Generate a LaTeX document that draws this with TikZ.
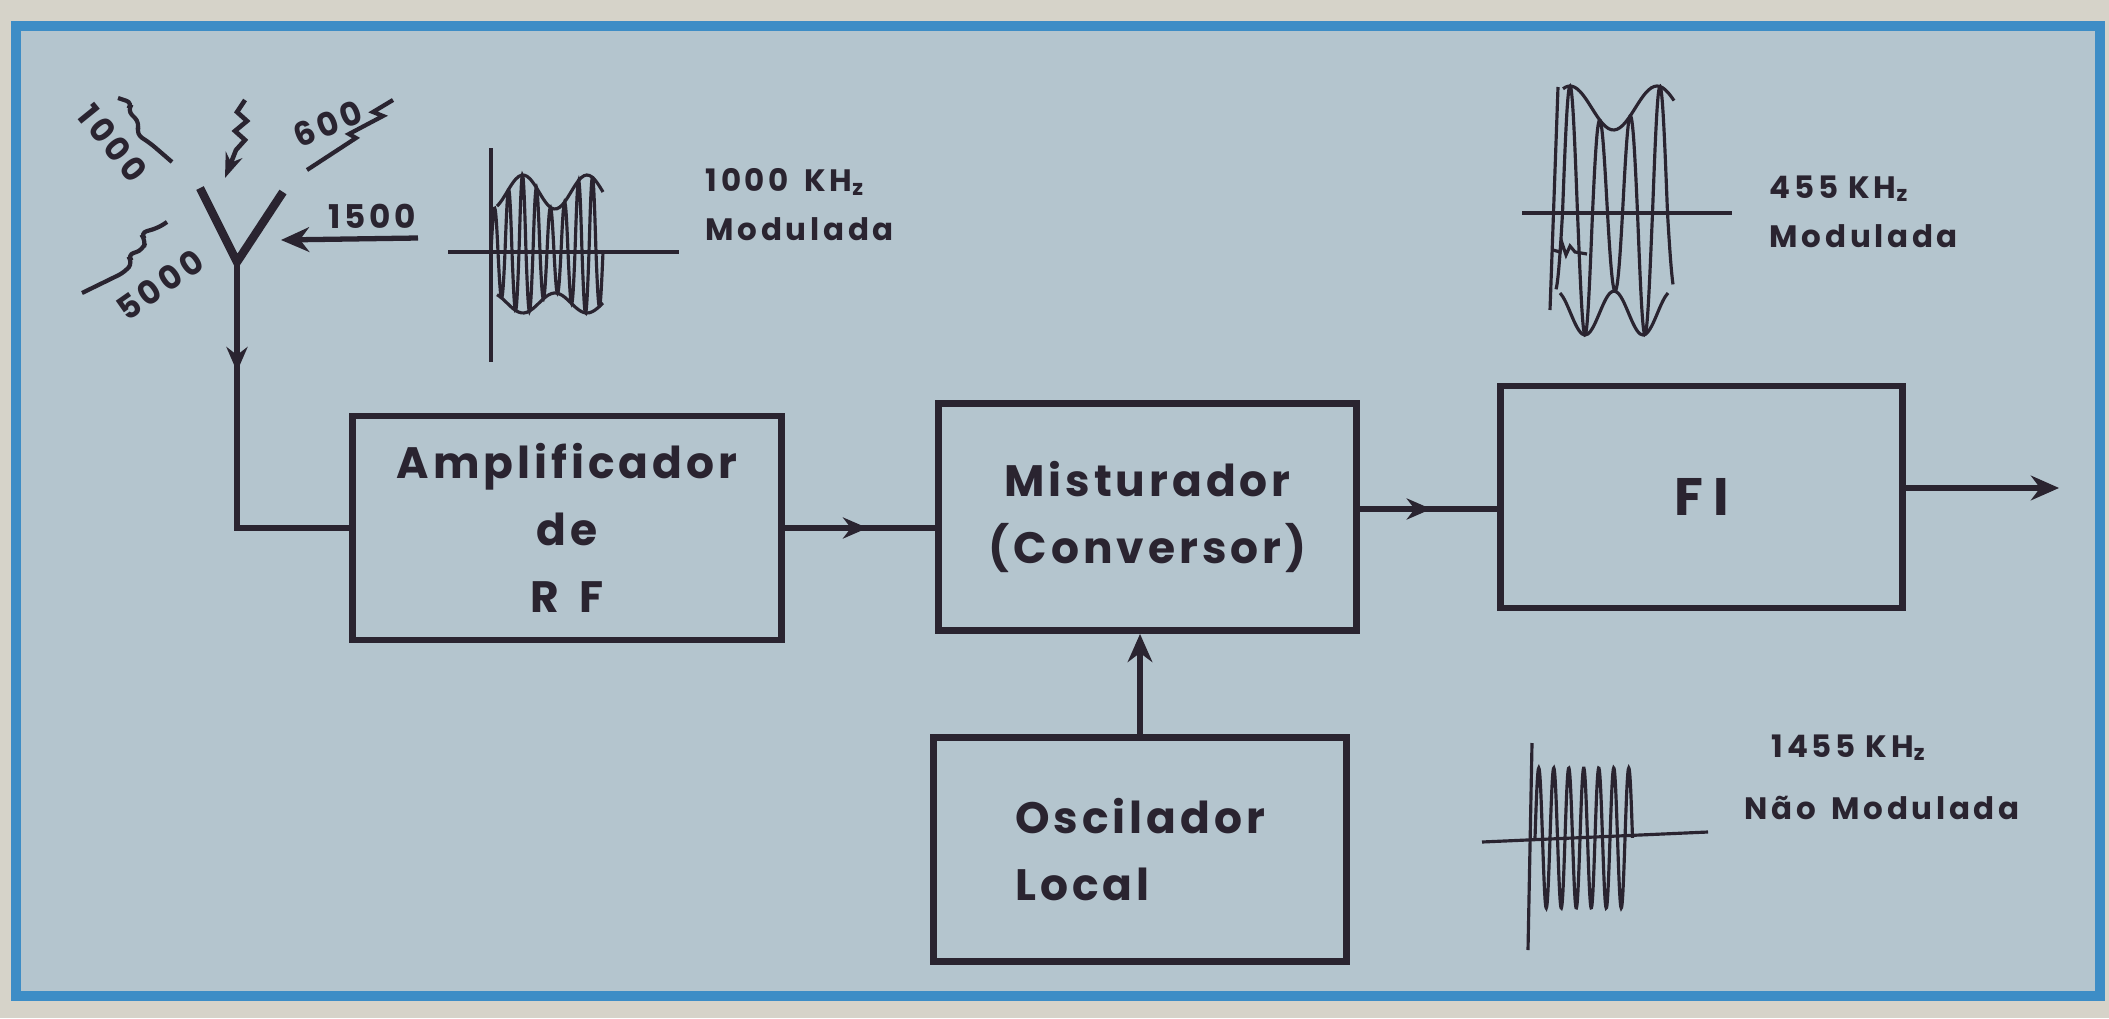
\documentclass[tikz,border=0pt]{standalone}
\usepackage{fontspec}
\setmainfont{Poppins}
\newfontfamily\blockfont{Poppins}[LetterSpace=9]
\newfontfamily\tagfont{Poppins}[LetterSpace=12]
\usepackage{tikz}
\usetikzlibrary{positioning,shapes.misc,arrows.meta,decorations.markings}
\definecolor{ink}{HTML}{2A2430}
\definecolor{paper}{HTML}{B4C5CE}
\definecolor{frameblue}{HTML}{3D8DC6}
\definecolor{margin}{HTML}{D6D3C9}
\tikzstyle{arrow} = [line width=1.5pt, ->, >={Stealth[length=8pt,width=7pt]}]
\tikzstyle{wire} = [line width=1.5pt]
\tikzstyle{tBlock} = [rectangle, draw=ink, line width=1.9pt, align=center, minimum height=2.24cm, text centered, font=\blockfont\bfseries\fontsize{12.5}{19}\selectfont]
\tikzstyle{tTrace} = [line width=0.9pt]
\tikzstyle{tTag} = [anchor=north west, align=left, inner sep=0pt, font=\tagfont\bfseries\fontsize{8.8}{14}\selectfont]
\tikzstyle{tFreq} = [inner sep=0pt, font=\tagfont\bfseries\fontsize{9.3}{10}\selectfont]
\tikzset{midArrow/.style={postaction={decorate}, decoration={markings, mark=at position #1 with {\arrow{Stealth[length=7pt,width=6pt]}}}}}

\begin{document}
\begin{tikzpicture}[x=0.01cm,y=-0.01cm,color=ink]
        \useasboundingbox (0,0) rectangle (2109,1018);
        \fill[margin] (0,0) rectangle (2109,1018);
        \filldraw[fill=paper, draw=frameblue, line width=2.8pt] (16,26) rectangle (2100,996);

        % blocks
        \node[tBlock, minimum width=4.29cm] (AmpRF) at (567,528) {Amplificador\\de\\R\hspace{6pt}F};
        \node[tBlock, minimum width=4.18cm, minimum height=2.27cm] (Mixer) [right=1.5cm of AmpRF, yshift=0.11cm] {Misturador\\(Conversor)};
        \node[tBlock, minimum width=4.02cm, minimum height=2.22cm, font=\blockfont\bfseries\fontsize{15}{18}\selectfont] (FI) [right=1.37cm of Mixer, yshift=0.2cm] {F\hspace{3pt}I};
        \node[tBlock, minimum width=4.13cm, align=left] (LocalOsc) [below=1.0cm of Mixer, xshift=-0.075cm] {Oscilador\\Local};

        % antenna and connectors
        \coordinate (ArmL) at (200,188);
        \coordinate (ArmR) at (283,192);
        \coordinate (AntFoot) at (237,262);
        \draw[wire, line width=2.4pt] (ArmL) -- (AntFoot) -- (ArmR);
        \draw[wire, midArrow=0.29] (AntFoot) |- (AmpRF.west);
        \draw[wire, midArrow=0.55] (AmpRF.east) -- (AmpRF.east -| Mixer.west);
        \draw[wire, midArrow=0.52] ([yshift=0.08cm]Mixer.east) -- ([yshift=0.08cm]Mixer.east -| FI.west);
        \coordinate[right=1.53cm of FI.east, yshift=0.09cm] (OutEnd);
        \draw[arrow] ([yshift=0.09cm]FI.east) -- (OutEnd);
        \draw[arrow] (LocalOsc.north) -- (LocalOsc.north |- Mixer.south);

        % incoming stations
        \node[tFreq, rotate=-51] (F1000) at (113,143) {1000};
        \draw[tTrace, line width=1.2pt, rounded corners=2pt] (118,98) -- (133,103) -- (127,110) -- (140,123) -- (136,134) -- (150,143) -- (172,162);
        \node[tFreq, rotate=35] (F5000) at (160,285) {5000};
        \draw[tTrace, line width=1.2pt, rounded corners=2pt] (82,293) -- (125,272) -- (133,262) -- (127,255) -- (143,250) -- (146,240) -- (140,233) -- (158,228) -- (167,222);
        \draw[tTrace, line width=1.3pt, -{Stealth[length=7pt,width=5pt]}] (245,100) -- (237,112) -- (247,121) -- (235,131) -- (245,140) -- (236,150) -- (225,178);
        \node[tFreq, rotate=22] (F600) at (328,124) {600};
        \draw[tTrace, line width=1.2pt] (307,170) -- (356,138) -- (349,134) -- (383,116) -- (373,112) -- (393,100);
        \node[tFreq] (F1500) at (372,216) {1500};
        \coordinate (In1500) at (418,238);
        \coordinate (Hit1500) at (281,240);
        \draw[arrow] (In1500) -- (Hit1500);

        % 1000 kHz modulated
        \draw[tTrace] (448,252) -- (679,252);
        \draw[tTrace] (491,148) -- (491,362);
        \draw[tTrace] plot[smooth, domain=491:603, samples=240] (\x, {252 - max(0,sin((\x-491)/14*360))*(60+17*cos((\x-523)/64*360)) - min(0,sin((\x-491)/14*360))*(51+10*cos((\x-523)/64*360))});
        \draw[tTrace] plot[smooth, domain=497:603, samples=40] (\x, {252-(60+17*cos((\x-523)/64*360))});
        \draw[tTrace] plot[smooth, domain=497:603, samples=40] (\x, {252+(51+10*cos((\x-523)/64*360))});
        \node[tTag] (Tag1000) at (705,168) {1000 \,KH\textsubscript{z}\\Modulada};

        % 455 kHz modulated
        \draw[tTrace] (1522,213) -- (1732,213);
        \draw[tTrace] (1558,87) -- (1550,310);
        \draw[tTrace] plot[smooth, domain=1556:1673, samples=200] (\x, {213 - max(0,sin((\x-1562.5)/30*360))*(105+22*cos((\x-1570)/87*360)) - min(0,sin((\x-1562.5)/30*360))*(100+22*cos((\x-1585)/58*360))});
        \draw[tTrace] plot[smooth, domain=1563:1674, samples=40] (\x, {213-(105+22*cos((\x-1570)/87*360))});
        \draw[tTrace] plot[smooth, domain=1560:1668, samples=40] (\x, {213+(100+22*cos((\x-1585)/58*360))});
        \draw[tTrace] (1553,250) -- (1560,252) -- (1562,243) -- (1566,255) -- (1570,246) -- (1575,252) -- (1587,254);
        \node[tTag] (Tag455) at (1769,175) {455 KH\textsubscript{z}\\Modulada};

        % 1455 kHz local oscillator
        \draw[tTrace] (1482,842) -- (1708,832);
        \draw[tTrace] (1532,743) -- (1528,950);
        \draw[tTrace] plot[smooth, domain=1535:1632.5, samples=260] (\x, {838 - 70*sin((\x-1535)/15*360)});
        \node[tTag] (Tag1455) at (1744,734) {\hspace*{0.27cm}1455 KH\textsubscript{z}\\[3.6pt]Não \,Modulada};
    \end{tikzpicture}
\end{document}
